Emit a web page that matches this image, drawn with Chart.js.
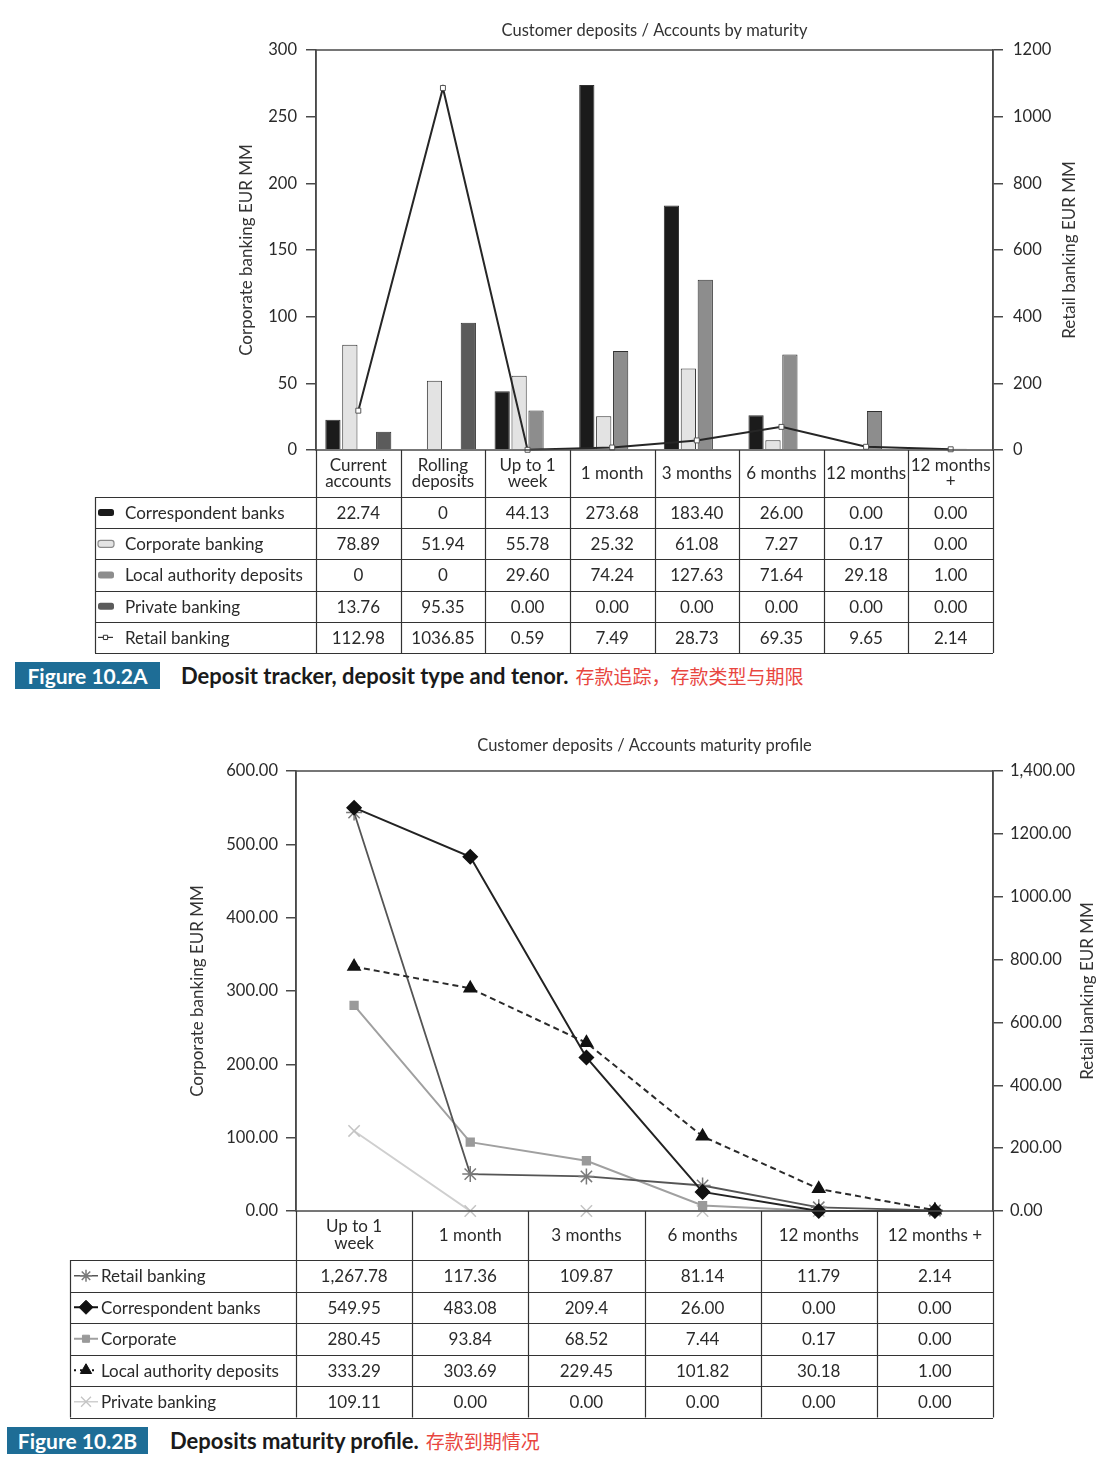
<!DOCTYPE html>
<html>
<head>
<meta charset="utf-8">
<script src="https://cdn.jsdelivr.net/npm/chart.js@4.4.1/dist/chart.umd.min.js"></script>
<style>
    body { margin: 0; background: #fff; font-family: Lato, "Noto Sans", sans-serif; }
    #page { position: relative; width: 1098px; height: 1469px; overflow: hidden; }
    .box { position: absolute; left: 0; width: 1098px; }
    .caption { position: absolute; height: 27px; display: flex; align-items: center; white-space: nowrap; }
    .tag { background: #1e6d96; color: #fff; font-weight: 700; font-size: 21px; height: 27px; line-height: 27px; text-align: center; }
    .capText { font-weight: 700; font-size: 22px; color: #1a1a1a; margin-left: 21px; }
    .zh { font-family: "Noto Sans CJK SC", sans-serif; color: #e8463f; font-size: 19px; margin-left: 7px; }
</style>
</head>
<body>
<div id="page">
    <div class="box" style="top:0;height:660px"><canvas id="chartA"></canvas></div>
    <div class="caption" style="left:15px;top:662px">
        <span class="tag" style="width:145px">Figure 10.2A</span>
        <span class="capText">Deposit tracker, deposit type and tenor.</span>
        <span class="zh">存款追踪，存款类型与期限</span>
    </div>
    <div class="box" style="top:700px;height:725px"><canvas id="chartB"></canvas></div>
    <div class="caption" style="left:7px;top:1427px">
        <span class="tag" style="width:141px">Figure 10.2B</span>
        <span class="capText" style="margin-left:22px">Deposits maturity profile.</span>
        <span class="zh">存款到期情况</span>
    </div>
</div>
<script>
// ---- Figure 10.2A data (as printed in the table) ----
const categoriesA = [['Current', 'accounts'], ['Rolling', 'deposits'], ['Up to 1', 'week'], ['1 month'], ['3 months'], ['6 months'], ['12 months'], ['12 months', '+']];
const correspondentA = ['22.74', '0', '44.13', '273.68', '183.40', '26.00', '0.00', '0.00'];
const corporateA = ['78.89', '51.94', '55.78', '25.32', '61.08', '7.27', '0.17', '0.00'];
const localAuthorityA = ['0', '0', '29.60', '74.24', '127.63', '71.64', '29.18', '1.00'];
const privateA = ['13.76', '95.35', '0.00', '0.00', '0.00', '0.00', '0.00', '0.00'];
const retailA = ['112.98', '1036.85', '0.59', '7.49', '28.73', '69.35', '9.65', '2.14'];
// retail line as it is actually plotted (peak sits higher than the printed value)
const retailPlotA = [118, 1086, 0.59, 7.49, 28.73, 69.35, 9.65, 2.14];

// ---- Figure 10.2B data ----
const categoriesB = [['Up to 1', 'week'], ['1 month'], ['3 months'], ['6 months'], ['12 months'], ['12 months +']];
const retailB = ['1,267.78', '117.36', '109.87', '81.14', '11.79', '2.14'];
const correspondentB = ['549.95', '483.08', '209.4', '26.00', '0.00', '0.00'];
const corporateB = ['280.45', '93.84', '68.52', '7.44', '0.17', '0.00'];
const localAuthorityB = ['333.29', '303.69', '229.45', '101.82', '30.18', '1.00'];
const privateB = ['109.11', '0.00', '0.00', '0.00', '0.00', '0.00'];
const rightTicksB = ['0.00', '200.00', '400.00', '600.00', '800.00', '1000.00', '1200.00', '1,400.00'];

const FONT = 'Lato, "Noto Sans", sans-serif';
const INK = '#2a2a2a';
const AXIS = '#4a4a4a';

Chart.defaults.font.family = FONT;
Chart.defaults.color = INK;

const num = s => Number(String(s).replace(/,/g, ''));

function drawMarker(ctx, style, radius, x, y, lineWidth) {
    if (Chart.helpers && Chart.helpers.drawPoint) {
        Chart.helpers.drawPoint(ctx, { pointStyle: style, radius: radius, rotation: 0, borderWidth: lineWidth }, x, y);
    }
}

// frame, chart title over the plot area, rotated axis titles
function framePlugin(spec) {
    return {
        id: 'frame',
        afterDraw(chart) {
            const { ctx, chartArea: a } = chart;
            ctx.save();
            ctx.strokeStyle = AXIS;
            ctx.lineWidth = 1.5;
            ctx.strokeRect(a.left, a.top, a.right - a.left, a.bottom - a.top);
            ctx.fillStyle = '#333';
            ctx.textAlign = 'center';
            ctx.textBaseline = 'middle';
            ctx.font = '16.5px ' + FONT;
            ctx.fillText(spec.title, (a.left + a.right) / 2, spec.titleY);
            ctx.font = '17px ' + FONT;
            const midY = (a.top + a.bottom) / 2;
            spec.axisTitles.forEach(t => {
                ctx.save();
                ctx.translate(t.x, midY);
                ctx.rotate(-Math.PI / 2);
                ctx.fillText(t.text, 0, 0);
                ctx.restore();
            });
            ctx.restore();
        }
    };
}

// data table under the plot, columns aligned with the category scale
function tablePlugin(spec) {
    return {
        id: 'dataTable',
        afterDraw(chart) {
            const { ctx, chartArea: a } = chart;
            const n = spec.columns.length;
            const colW = (a.right - a.left) / n;
            const top = a.bottom;
            const bodyTop = top + spec.headerHeight;
            const bottom = bodyTop + spec.rows.length * spec.rowHeight;
            const px = v => Math.round(v) + 0.5;

            ctx.save();
            ctx.strokeStyle = '#333';
            ctx.lineWidth = 1.2;
            ctx.beginPath();
            for (let i = 0; i <= n; i++) {
                const x = px(a.left + i * colW);
                ctx.moveTo(x, top);
                ctx.lineTo(x, bottom);
            }
            ctx.moveTo(px(spec.left), bodyTop);
            ctx.lineTo(px(spec.left), bottom);
            for (let r = 0; r <= spec.rows.length; r++) {
                const y = px(bodyTop + r * spec.rowHeight);
                ctx.moveTo(spec.left, y);
                ctx.lineTo(a.right, y);
            }
            ctx.stroke();

            ctx.fillStyle = INK;
            ctx.font = spec.fontSize + 'px ' + FONT;
            ctx.textAlign = 'center';
            ctx.textBaseline = 'middle';
            const headMid = top + spec.headerHeight / 2;
            spec.columns.forEach((lines, i) => {
                const cx = a.left + (i + 0.5) * colW;
                lines.forEach((line, k) => {
                    ctx.fillText(line, cx, headMid + (k - (lines.length - 1) / 2) * spec.headerLine);
                });
            });

            spec.rows.forEach((row, r) => {
                const cy = bodyTop + (r + 0.5) * spec.rowHeight;
                ctx.save();
                row.symbol(ctx, spec.left, cy);
                ctx.restore();
                ctx.fillStyle = INK;
                ctx.font = spec.fontSize + 'px ' + FONT;
                ctx.textAlign = 'left';
                ctx.textBaseline = 'middle';
                ctx.fillText(row.label, spec.left + spec.labelInset, cy + 1);
                ctx.textAlign = 'center';
                row.values.forEach((v, i) => {
                    ctx.fillText(v, a.left + (i + 0.5) * colW, cy + 1);
                });
            });
            ctx.restore();
        }
    };
}

function barSwatch(fill, edge) {
    return (ctx, left, y) => {
        ctx.fillStyle = fill;
        ctx.beginPath();
        ctx.roundRect(left + 3, y - 3.5, 16, 7, 2.5);
        ctx.fill();
        if (edge) {
            ctx.strokeStyle = edge;
            ctx.lineWidth = 1.2;
            ctx.stroke();
        }
    };
}

function lineSwatch(color, width, dash, marker) {
    return (ctx, left, y) => {
        ctx.strokeStyle = color;
        ctx.lineWidth = width;
        ctx.setLineDash(dash);
        ctx.beginPath();
        ctx.moveTo(left + marker.from, y);
        ctx.lineTo(left + marker.to, y);
        ctx.stroke();
        ctx.setLineDash([]);
        ctx.fillStyle = marker.fill;
        ctx.strokeStyle = marker.stroke;
        ctx.lineWidth = marker.lineWidth;
        drawMarker(ctx, marker.style, marker.radius, left + (marker.from + marker.to) / 2, y, marker.lineWidth);
    };
}

const COLORS_A = {
    correspondent: '#1b1b1b',
    corporate: '#e3e3e3',
    local: '#8d8d8d',
    private: '#5b5b5b'
};

function barSet(label, values, color, order) {
    return {
        type: 'bar',
        label: label,
        data: values.map(num),
        backgroundColor: color,
        borderColor: '#303030',
        borderWidth: 1,
        yAxisID: 'y',
        order: order
    };
}

function sideAxis(position, max, step, width, pad, labels) {
    return {
        position: position,
        min: 0,
        max: max,
        ticks: {
            stepSize: step,
            padding: pad,
            color: INK,
            font: { size: 16.5 },
            callback: labels
        },
        grid: { drawOnChartArea: false, tickLength: 10, color: AXIS, lineWidth: 1.5 },
        border: { color: AXIS, width: 1.5 },
        afterFit(scale) { scale.width = width; }
    };
}

// ---- Figure 10.2A ----
new Chart(document.getElementById('chartA'), {
    data: {
        labels: categoriesA.map(c => c.join(' ')),
        datasets: [
            barSet('Correspondent banks', correspondentA, COLORS_A.correspondent, 2),
            barSet('Corporate banking', corporateA, COLORS_A.corporate, 2),
            barSet('Local authority deposits', localAuthorityA, COLORS_A.local, 2),
            barSet('Private banking', privateA, COLORS_A.private, 2),
            {
                type: 'line',
                label: 'Retail banking',
                data: retailPlotA,
                yAxisID: 'y1',
                borderColor: '#262626',
                borderWidth: 2,
                tension: 0,
                pointStyle: 'rect',
                pointRadius: 3.5,
                pointBackgroundColor: '#fff',
                pointBorderColor: '#555',
                pointBorderWidth: 1,
                clip: false,
                order: 0
            }
        ]
    },
    options: {
        responsive: true,
        maintainAspectRatio: false,
        animation: false,
        layout: { padding: { top: 50, bottom: 210, left: 0, right: 0 } },
        datasets: { bar: { categoryPercentage: 0.8, barPercentage: 0.9 } },
        scales: {
            x: { display: false },
            y: sideAxis('left', 300, 50, 316, 9),
            y1: sideAxis('right', 1200, 200, 105, 10)
        },
        plugins: {
            legend: { display: false },
            tooltip: { enabled: false },
            title: { display: false }
        }
    },
    plugins: [
        framePlugin({
            title: 'Customer deposits / Accounts by maturity',
            titleY: 31,
            axisTitles: [
                { text: 'Corporate banking EUR MM', x: 247 },
                { text: 'Retail banking EUR MM', x: 1070 }
            ]
        }),
        tablePlugin({
            columns: categoriesA,
            left: 95,
            headerHeight: 47,
            headerLine: 16.5,
            rowHeight: 31.2,
            fontSize: 17,
            labelInset: 30,
            rows: [
                { label: 'Correspondent banks', values: correspondentA, symbol: barSwatch(COLORS_A.correspondent) },
                { label: 'Corporate banking', values: corporateA, symbol: barSwatch(COLORS_A.corporate, '#8a8a8a') },
                { label: 'Local authority deposits', values: localAuthorityA, symbol: barSwatch(COLORS_A.local) },
                { label: 'Private banking', values: privateA, symbol: barSwatch(COLORS_A.private) },
                {
                    label: 'Retail banking', values: retailA,
                    symbol: lineSwatch('#333', 1.2, [], { from: 3, to: 18, style: 'rect', radius: 3, fill: '#fff', stroke: '#333', lineWidth: 1 })
                }
            ]
        })
    ]
});

// ---- Figure 10.2B ----
const SERIES_B = {
    retail: { line: '#555', mark: '#7a7a7a' },
    correspondent: { line: '#222', mark: '#111' },
    corporate: { line: '#a0a0a0', mark: '#9a9a9a' },
    local: { line: '#2a2a2a', mark: '#111' },
    private: { line: '#cfcfcf', mark: '#c4c4c4' }
};

function lineSet(label, values, axis, s, style, radius, extra) {
    return Object.assign({
        type: 'line',
        label: label,
        data: values.map(num),
        yAxisID: axis,
        borderColor: s.line,
        borderWidth: 2,
        tension: 0,
        pointStyle: style,
        pointRadius: radius,
        pointBackgroundColor: s.mark,
        pointBorderColor: s.mark,
        pointBorderWidth: 1.5,
        clip: false
    }, extra);
}

new Chart(document.getElementById('chartB'), {
    data: {
        labels: categoriesB.map(c => c.join(' ')),
        datasets: [
            lineSet('Private banking', privateB, 'y', SERIES_B.private, 'crossRot', 8, { order: 5 }),
            lineSet('Corporate', corporateB, 'y', SERIES_B.corporate, 'rect', 5.5, { order: 4 }),
            lineSet('Retail banking', retailB, 'y1', SERIES_B.retail, 'star', 8, { order: 3, borderWidth: 1.8 }),
            lineSet('Local authority deposits', localAuthorityB, 'y', SERIES_B.local, 'triangle', 7, { order: 2, borderDash: [6, 4] }),
            lineSet('Correspondent banks', correspondentB, 'y', SERIES_B.correspondent, 'rectRot', 7, { order: 1 })
        ]
    },
    options: {
        responsive: true,
        maintainAspectRatio: false,
        animation: false,
        layout: { padding: { top: 71, bottom: 214, left: 0, right: 0 } },
        scales: {
            x: { display: false, offset: true },
            y: sideAxis('left', 600, 100, 296, 8, v => v.toFixed(2)),
            y1: sideAxis('right', 1400, 200, 105, 7, (v, i) => rightTicksB[i])
        },
        plugins: {
            legend: { display: false },
            tooltip: { enabled: false },
            title: { display: false }
        }
    },
    plugins: [
        framePlugin({
            title: 'Customer deposits / Accounts maturity profile',
            titleY: 46,
            axisTitles: [
                { text: 'Corporate banking EUR MM', x: 198 },
                { text: 'Retail banking EUR MM', x: 1088 }
            ]
        }),
        tablePlugin({
            columns: categoriesB,
            left: 70,
            headerHeight: 49,
            headerLine: 17,
            rowHeight: 31.5,
            fontSize: 17,
            labelInset: 31,
            rows: [
                {
                    label: 'Retail banking', values: retailB,
                    symbol: lineSwatch(SERIES_B.retail.line, 1.5, [], { from: 4, to: 28, style: 'star', radius: 6, fill: SERIES_B.retail.mark, stroke: SERIES_B.retail.mark, lineWidth: 1.5 })
                },
                {
                    label: 'Correspondent banks', values: correspondentB,
                    symbol: lineSwatch('#111', 2, [], { from: 4, to: 28, style: 'rectRot', radius: 7, fill: '#111', stroke: '#111', lineWidth: 1 })
                },
                {
                    label: 'Corporate', values: corporateB,
                    symbol: lineSwatch(SERIES_B.corporate.line, 2, [], { from: 4, to: 28, style: 'rect', radius: 5, fill: SERIES_B.corporate.mark, stroke: SERIES_B.corporate.mark, lineWidth: 1 })
                },
                {
                    label: 'Local authority deposits', values: localAuthorityB,
                    symbol: lineSwatch('#111', 2, [2, 4], { from: 4, to: 28, style: 'triangle', radius: 6.5, fill: '#111', stroke: '#111', lineWidth: 1 })
                },
                {
                    label: 'Private banking', values: privateB,
                    symbol: lineSwatch(SERIES_B.private.line, 1.5, [], { from: 4, to: 28, style: 'crossRot', radius: 7, fill: SERIES_B.private.mark, stroke: SERIES_B.private.mark, lineWidth: 1.3 })
                }
            ]
        })
    ]
});
</script>
</body>
</html>
